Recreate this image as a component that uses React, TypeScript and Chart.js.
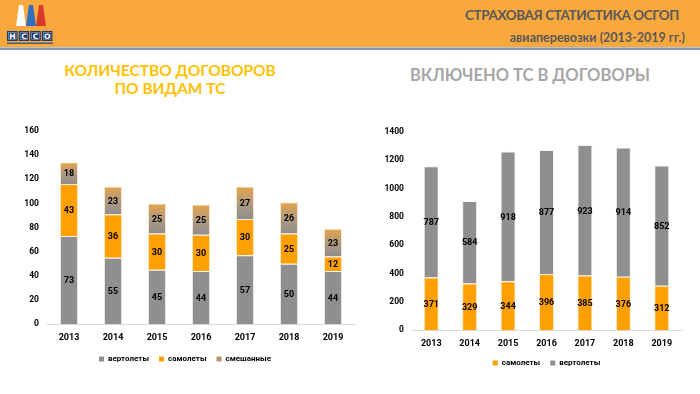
import React, { useEffect, useRef } from "react";
import { Chart, registerables } from "chart.js";

Chart.register(...registerables);

const years = ["2013", "2014", "2015", "2016", "2017", "2018", "2019"];
const contractsHeli = [73, 55, 45, 44, 57, 50, 44];
const contractsPlane = [43, 36, 30, 30, 30, 25, 12];
const contractsMixed = [18, 23, 25, 25, 27, 26, 23];
const vehiclesPlane = [371, 329, 344, 396, 385, 376, 312];
const vehiclesHeli = [787, 584, 918, 877, 923, 914, 852];
const leftTicks = { max: 160, step: 20 };
const rightTicks = { max: 1400, step: 200 };

const FONT = "Lato, 'Noto Sans', sans-serif";
const CFONT = "Roboto, 'Noto Sans', sans-serif";
const GRAY = "#8F8F8F";
const ORANGE = "#FFA000";
const MIX_LEGEND = "#B59570";

const segLabels = {
  id: "segLabels",
  afterDatasetsDraw(chart: any) {
    const ctx = chart.ctx;
    ctx.save();
    ctx.font = `bold 9px ${CFONT}`;
    ctx.fillStyle = "#000";
    ctx.textAlign = "center";
    ctx.textBaseline = "middle";
    chart.data.datasets.forEach((ds: any, i: number) => {
      const meta = chart.getDatasetMeta(i);
      meta.data.forEach((bar: any, j: number) => {
        const p = bar.getProps(["x", "y", "base"], true);
        ctx.fillText(String(ds.data[j]), p.x, (p.y + p.base) / 2 + 1);
      });
    });
    ctx.restore();
  },
};

function baseOptions(max: number, step: number, yWidth: number, xHeight: number, pad: any, legendColors: string[], legendFull: boolean) {
  return {
    animation: false,
    responsive: false,
    maintainAspectRatio: false,
    layout: { padding: pad },
    plugins: {
      tooltip: { enabled: false },
      legend: {
        position: "bottom",
        fullSize: legendFull,
        labels: {
          boxWidth: 5,
          boxHeight: 5,
          padding: 10,
          color: "#404040",
          font: { size: 8, weight: "bold", family: CFONT },
          generateLabels(chart: any) {
            return chart.data.datasets.map((ds: any, i: number) => ({
              text: ds.label,
              fillStyle: legendColors[i],
              strokeStyle: legendColors[i],
              lineWidth: 0,
              hidden: false,
              datasetIndex: i,
            }));
          },
        },
      },
    },
    scales: {
      x: {
        stacked: true,
        grid: { display: false, drawTicks: false },
        border: { display: true, color: "#D9D9D9", width: 1 },
        ticks: { color: "#000", padding: 8, font: { size: 9, weight: "bold", family: CFONT } },
        afterFit(s: any) { s.height = xHeight; },
      },
      y: {
        stacked: true,
        min: 0,
        max,
        grid: { display: false, drawTicks: false },
        border: { display: false },
        ticks: {
          stepSize: step,
          color: "#000",
          padding: 8,
          font: { size: 8.5, weight: "bold", family: CFONT },
          callback: (v: any) => String(v),
        },
        afterFit(s: any) { s.width = yWidth; },
      },
    },
  };
}

function mixedGradient(c: any) {
  const chart = c.chart;
  const ys = chart.scales && chart.scales.y;
  if (!chart.chartArea || !ys || c.dataIndex === undefined) return MIX_LEGEND;
  const i = c.dataIndex;
  const lo = contractsHeli[i] + contractsPlane[i];
  const hi = lo + contractsMixed[i];
  const yTop = ys.getPixelForValue(hi);
  const yBot = ys.getPixelForValue(lo);
  const g = chart.ctx.createLinearGradient(0, yTop, 0, yBot);
  g.addColorStop(0, "#E6A44C");
  g.addColorStop(0.5, "#B29A7E");
  g.addColorStop(1, "#8E8E8E");
  return g;
}

function Logo() {
  const letters = ["Н", "С", "С", "О"];
  return (
    <svg width="60" height="48" viewBox="0 0 60 48" style={{ position: "absolute", left: 0, top: 0 }}>
      <polygon points="19,5 23,5 26,26 16,26" fill="#FFFFFF" />
      <polygon points="29,5 33,5 36,26 26,26" fill="#2F6FC0" />
      <polygon points="39,5 43,5 46,26 36,26" fill="#D93A2B" />
      {letters.map((ch, i) => (
        <g key={i}>
          <rect x={7 + i * 11.6} y={31} width={10.6} height={10} fill="#1F3A68" />
          <rect x={8.5 + i * 11.6} y={32.5} width={7.6} height={7} fill="none" stroke="#8FA6C8" strokeWidth={0.6} />
          <text x={12.3 + i * 11.6} y={39} fontSize="7.5" fill="#fff" textAnchor="middle" fontFamily="DejaVu Sans" fontWeight="bold">{ch}</text>
        </g>
      ))}
      <rect x={7} y={42.5} width={46} height={1.5} fill="#4A5A78" />
    </svg>
  );
}

export default function App() {
  const leftRef = useRef<HTMLCanvasElement>(null);
  const rightRef = useRef<HTMLCanvasElement>(null);

  useEffect(() => {
    const left = new Chart(leftRef.current as HTMLCanvasElement, {
      type: "bar",
      data: {
        labels: years,
        datasets: [
          { label: "вертолеты", data: contractsHeli, backgroundColor: GRAY, borderColor: "rgba(240,240,240,0.8)", borderWidth: 1, barPercentage: 0.83, categoryPercentage: 0.5 },
          { label: "самолеты", data: contractsPlane, backgroundColor: ORANGE, borderColor: "rgba(255,235,200,0.8)", borderWidth: 1, barPercentage: 0.83, categoryPercentage: 0.5 },
          { label: "смешанные", data: contractsMixed, backgroundColor: mixedGradient, borderColor: "rgba(255,235,210,0.8)", borderWidth: 1, barPercentage: 0.83, categoryPercentage: 0.5 },
        ],
      },
      options: baseOptions(leftTicks.max, leftTicks.step, 32, 21, { top: 15, left: 21, right: 5, bottom: 3 }, [GRAY, ORANGE, MIX_LEGEND], true) as any,
      plugins: [segLabels],
    });
    const right = new Chart(rightRef.current as HTMLCanvasElement, {
      type: "bar",
      data: {
        labels: years,
        datasets: [
          { label: "самолеты", data: vehiclesPlane, backgroundColor: ORANGE, borderColor: "rgba(255,235,200,0.8)", borderWidth: 1, barPercentage: 0.78, categoryPercentage: 0.5 },
          { label: "вертолеты", data: vehiclesHeli, backgroundColor: GRAY, borderColor: "rgba(240,240,240,0.8)", borderWidth: 1, barPercentage: 0.78, categoryPercentage: 0.5 },
        ],
      },
      options: baseOptions(rightTicks.max, rightTicks.step, 28, 19, { top: 15, left: 0, right: 19, bottom: 0 }, [ORANGE, GRAY], false) as any,
      plugins: [segLabels],
    });
    return () => {
      left.destroy();
      right.destroy();
    };
  }, []);

  return (
    <div style={{ position: "absolute", left: 0, top: 0, width: 700, height: 394, background: "#fff", overflow: "hidden", fontFamily: FONT }}>
      <div style={{ position: "absolute", left: 0, top: 0, width: 700, height: 47, background: "#F9A83D" }} />
      <div style={{ position: "absolute", left: 0, top: 47, width: 700, height: 1, background: "#B6C2D0" }} />
      <div style={{ position: "absolute", left: 0, top: 48, width: 700, height: 2, background: "#8497B0" }} />
      <Logo />
      <div style={{ position: "absolute", right: 21, top: 6, fontSize: 13.5, letterSpacing: -0.4, fontWeight: 700, color: "#595959", whiteSpace: "nowrap", lineHeight: "19px" }}>
        СТРАХОВАЯ СТАТИСТИКА ОСГОП
      </div>
      <div style={{ position: "absolute", right: 15, top: 29, fontSize: 12.5, fontWeight: 700, color: "#595959", whiteSpace: "nowrap", lineHeight: "17px" }}>
        авиаперевозки (2013-2019 гг.)
      </div>
      <div style={{ position: "absolute", left: 20, width: 300, top: 61, textAlign: "center", fontSize: 15.5, fontWeight: 700, color: "#FFC000", lineHeight: "18px" }}>
        КОЛИЧЕСТВО ДОГОВОРОВ
        <br />
        ПО ВИДАМ ТС
      </div>
      <div style={{ position: "absolute", left: 380, width: 300, top: 64, textAlign: "center", fontSize: 16.5, fontWeight: 700, color: "#A6A6A6", lineHeight: "22px", whiteSpace: "nowrap" }}>
        ВКЛЮЧЕНО ТС В ДОГОВОРЫ
      </div>
      <canvas ref={leftRef} width={366} height={260} style={{ position: "absolute", left: -6, top: 116, width: 366, height: 260 }} />
      <canvas ref={rightRef} width={316} height={260} style={{ position: "absolute", left: 384, top: 117, width: 316, height: 260 }} />
    </div>
  );
}
